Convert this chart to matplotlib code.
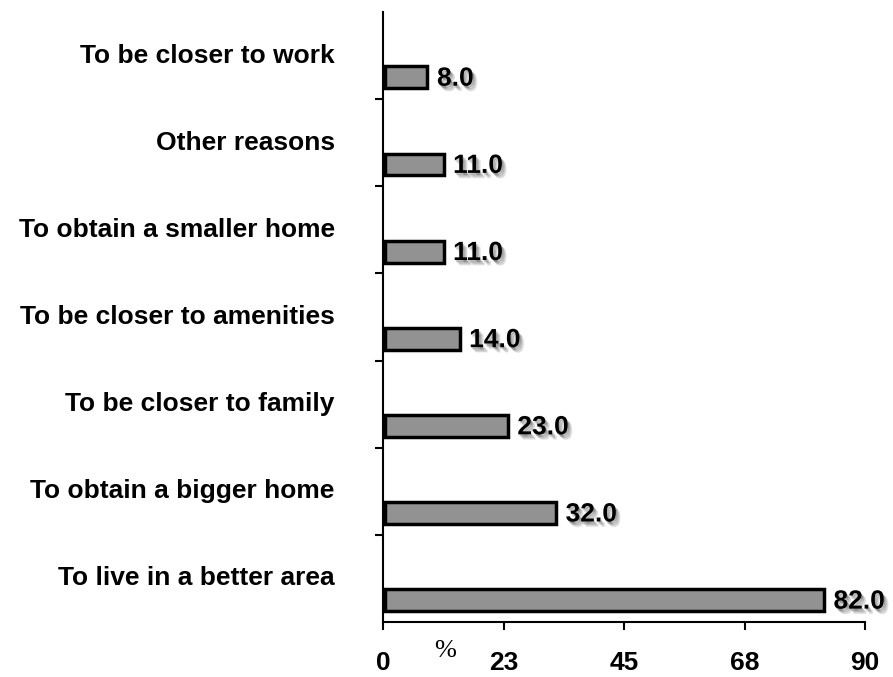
import matplotlib.pyplot as plt
import matplotlib.patheffects as pe

plt.rcParams['font.family'] = ['Liberation Sans', 'DejaVu Sans']

# reasons for moving, bottom to top
reasons = ['To live in a better area', 'To obtain a bigger home', 'To be closer to family',
           'To be closer to amenities', 'To obtain a smaller home', 'Other reasons',
           'To be closer to work']
pct = [82.0, 32.0, 23.0, 14.0, 11.0, 11.0, 8.0]

x_ticks = [0, 22.5, 45, 67.5, 90]
x_tick_labels = ['0', '23', '45', '68', '90']

fig = plt.figure(figsize=(8.93, 6.77), dpi=100)
ax = fig.add_axes([0.4289, 0.0812, 0.54, 0.9011])

pos = list(range(len(reasons)))
bar_y = [p - 0.25 for p in pos]
ax.barh(bar_y, pct, height=0.25, color='#929292', edgecolor='black', linewidth=2.5, left=0.3)

# soft drop shadow behind the value labels
shadow = [pe.SimplePatchShadow(offset=(3.5, -4), shadow_rgbFace='#000000', alpha=0.06),
          pe.SimplePatchShadow(offset=(3, -3.5), shadow_rgbFace='#000000', alpha=0.1),
          pe.SimplePatchShadow(offset=(2, -2.5), shadow_rgbFace='#000000', alpha=0.15),
          pe.SimplePatchShadow(offset=(1, -1.5), shadow_rgbFace='#000000', alpha=0.2),
          pe.Normal()]
for y, v in zip(bar_y, pct):
    ax.annotate(f'{v:.1f}', (v, y), xytext=(8, -1), textcoords='offset points',
                ha='left', va='center', fontsize=19, fontweight='bold', path_effects=shadow)

# category labels sit above each bar, right aligned
for p, r in zip(pos, reasons):
    ax.text(-0.1, p, r, transform=ax.get_yaxis_transform(), ha='right', va='center',
            fontsize=19, fontweight='bold')

ax.set_xlim(0, 90)
ax.set_ylim(-0.5, len(reasons) - 0.5)
ax.set_xticks(x_ticks)
ax.set_xticklabels(x_tick_labels, fontsize=19, fontweight='bold')
ax.set_yticks([p + 0.5 for p in pos[:-1]])
ax.set_yticklabels([])
ax.tick_params(axis='both', direction='out', length=6, width=1.5)
ax.tick_params(axis='x', pad=15)
for s in ['top', 'right']:
    ax.spines[s].set_visible(False)
for s in ['left', 'bottom']:
    ax.spines[s].set_linewidth(1.5)

fig.text(0.498, 0.039, '%', fontsize=19, family='Liberation Serif', ha='center', va='center')

fig.savefig('out.png', dpi=100)
